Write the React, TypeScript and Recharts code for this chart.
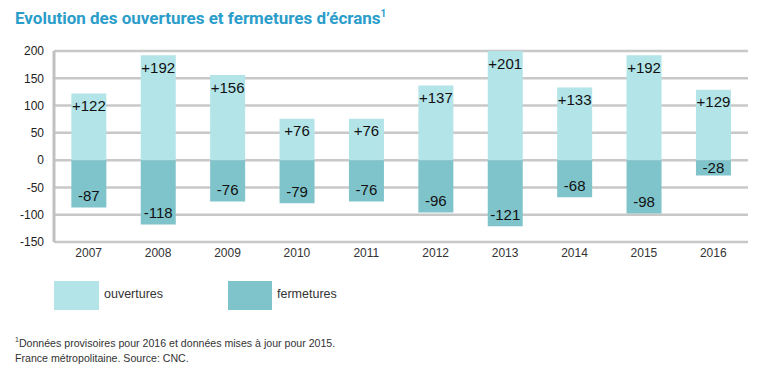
import React from "react";
import { BarChart, Bar, XAxis, YAxis, CartesianGrid, LabelList } from "recharts";

const years = ["2007", "2008", "2009", "2010", "2011", "2012", "2013", "2014", "2015", "2016"];
const ouvertures = [122, 192, 156, 76, 76, 137, 201, 133, 192, 129];
const fermetures = [-87, -118, -76, -79, -76, -96, -121, -68, -98, -28];
const yTicks = [-150, -100, -50, 0, 50, 100, 150, 200];

const data = years.map((y, i) => ({ year: y, ouvertures: ouvertures[i], fermetures: fermetures[i] }));

const LIGHT = "#b2e4e8";
const DARK = "#7fc4cb";
const FONT = "'Liberation Sans', Arial, sans-serif";

const PosLabel = (props: any) => {
  const { x, y, width, height, value } = props;
  const top = Math.min(y, y + height);
  return (
    <text x={x + width / 2} y={top + 12} textAnchor="middle" dominantBaseline="central" fontSize={15} fill="#111" fontFamily={FONT}>
      {"+" + value}
    </text>
  );
};

const NegLabel = (props: any) => {
  const { x, y, width, height, value } = props;
  const bottom = Math.max(y, y + height);
  const h = Math.abs(height);
  return (
    <text x={x + width / 2} y={bottom - Math.min(12, h / 2)} textAnchor="middle" dominantBaseline="central" fontSize={15} fill="#111" fontFamily={FONT}>
      {String(value)}
    </text>
  );
};

export default function App() {
  return (
    <div style={{ position: "absolute", left: 0, top: 0, width: 762, height: 374, background: "#fff", fontFamily: FONT }}>
      <div style={{ position: "absolute", left: 15, top: 8, fontFamily: "Roboto, sans-serif", fontWeight: 700, fontSize: 17, color: "#2b9dca", whiteSpace: "nowrap" }}>
        Evolution des ouvertures et fermetures d’écrans<sup style={{ fontSize: 10 }}>1</sup>
      </div>
      <div style={{ position: "absolute", left: 0, top: 0 }}>
        <BarChart width={762} height={270} data={data} stackOffset="sign" margin={{ top: 51, right: 14, bottom: 0, left: 0 }} barCategoryGap="25%">
          <CartesianGrid vertical={false} stroke="#c8c8c8" strokeWidth={2.5} />
          <XAxis dataKey="year" height={28} axisLine={false} tickLine={false} tickSize={0} tickMargin={6} tick={{ fontSize: 12, fill: "#333", fontFamily: FONT }} interval={0} />
          <YAxis width={54} domain={[-150, 200]} ticks={yTicks} allowDataOverflow interval={0} axisLine={{ stroke: "#c0c0c0", strokeWidth: 3 }} tickLine={false} tickMargin={4} tick={{ fontSize: 12, fill: "#222", fontFamily: FONT }} />
          <Bar dataKey="ouvertures" stackId="a" fill={LIGHT} isAnimationActive={false}>
            <LabelList dataKey="ouvertures" content={PosLabel} />
          </Bar>
          <Bar dataKey="fermetures" stackId="a" fill={DARK} isAnimationActive={false}>
            <LabelList dataKey="fermetures" content={NegLabel} />
          </Bar>
        </BarChart>
      </div>
      <div style={{ position: "absolute", left: 54, top: 281, width: 45, height: 29, background: LIGHT }} />
      <div style={{ position: "absolute", left: 104, top: 287, fontSize: 12.5, color: "#333" }}>ouvertures</div>
      <div style={{ position: "absolute", left: 228, top: 281, width: 44, height: 29, background: DARK }} />
      <div style={{ position: "absolute", left: 277, top: 287, fontSize: 12.5, color: "#333" }}>fermetures</div>
      <div style={{ position: "absolute", left: 15, top: 332, fontSize: 10.6, color: "#333", lineHeight: "15px", whiteSpace: "nowrap" }}>
        <div><sup style={{ fontSize: 7 }}>1</sup>Données provisoires pour 2016 et données mises à jour pour 2015.</div>
        <div>France métropolitaine. Source: CNC.</div>
      </div>
    </div>
  );
}
